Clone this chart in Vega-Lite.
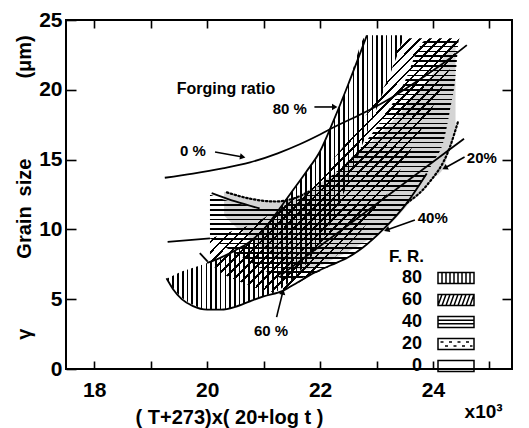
{
  "$schema": "https://vega.github.io/schema/vega-lite/v6.json",
  "width": 446,
  "height": 349,
  "autosize": {"type": "none"},
  "padding": {"left": 66, "top": 20, "right": 17, "bottom": 59},
  "background": "white",
  "config": {
    "view": {"stroke": "#000", "strokeWidth": 2},
    "axis": {
      "grid": false, "domain": false, "tickColor": "#000", "tickWidth": 1.6,
      "labelColor": "#000", "titleColor": "#000",
      "labelFont": "Liberation Sans", "titleFont": "Liberation Sans",
      "labelFontWeight": "bold", "titleFontWeight": "bold"
    }
  },
  "datasets": {
    "bands": [
      {"fr": "80", "x": 19.3, "lo": 6.35, "hi": 6.5},
      {"fr": "80", "x": 19.5, "lo": 5.3, "hi": 6.9},
      {"fr": "80", "x": 19.75, "lo": 4.6, "hi": 7.25},
      {"fr": "80", "x": 20.0, "lo": 4.25, "hi": 7.6},
      {"fr": "80", "x": 20.25, "lo": 4.25, "hi": 8.0},
      {"fr": "80", "x": 20.5, "lo": 4.45, "hi": 8.5},
      {"fr": "80", "x": 20.75, "lo": 4.85, "hi": 9.1},
      {"fr": "80", "x": 21.0, "lo": 5.2, "hi": 10.0},
      {"fr": "80", "x": 21.25, "lo": 5.6, "hi": 11.3},
      {"fr": "80", "x": 21.5, "lo": 6.4, "hi": 12.7},
      {"fr": "80", "x": 21.75, "lo": 7.5, "hi": 14.1},
      {"fr": "80", "x": 22.0, "lo": 9.0, "hi": 15.6},
      {"fr": "80", "x": 22.25, "lo": 11.0, "hi": 17.9},
      {"fr": "80", "x": 22.5, "lo": 13.4, "hi": 20.4},
      {"fr": "80", "x": 22.83, "lo": 16.9, "hi": 23.9},
      {"fr": "80", "x": 23.0, "lo": 18.6, "hi": 23.9},
      {"fr": "80", "x": 23.25, "lo": 21.2, "hi": 23.9},
      {"fr": "80", "x": 23.5, "lo": 23.9, "hi": 23.9},
      {"fr": "60", "x": 20.05, "lo": 7.6, "hi": 9.35},
      {"fr": "60", "x": 20.25, "lo": 6.9, "hi": 9.6},
      {"fr": "60", "x": 20.5, "lo": 6.4, "hi": 9.95},
      {"fr": "60", "x": 20.75, "lo": 6.0, "hi": 10.3},
      {"fr": "60", "x": 21.0, "lo": 5.6, "hi": 10.8},
      {"fr": "60", "x": 21.25, "lo": 5.5, "hi": 11.4},
      {"fr": "60", "x": 21.5, "lo": 5.9, "hi": 12.1},
      {"fr": "60", "x": 21.75, "lo": 6.5, "hi": 13.0},
      {"fr": "60", "x": 22.0, "lo": 7.2, "hi": 14.0},
      {"fr": "60", "x": 22.25, "lo": 8.0, "hi": 15.1},
      {"fr": "60", "x": 22.5, "lo": 8.9, "hi": 16.4},
      {"fr": "60", "x": 22.75, "lo": 10.0, "hi": 17.8},
      {"fr": "60", "x": 23.0, "lo": 11.4, "hi": 19.3},
      {"fr": "60", "x": 23.25, "lo": 13.0, "hi": 21.2},
      {"fr": "60", "x": 23.46, "lo": 14.6, "hi": 23.7},
      {"fr": "60", "x": 23.75, "lo": 16.8, "hi": 23.7},
      {"fr": "60", "x": 24.0, "lo": 18.8, "hi": 23.7},
      {"fr": "60", "x": 24.25, "lo": 21.0, "hi": 23.7},
      {"fr": "60", "x": 24.47, "lo": 23.7, "hi": 23.7},
      {"fr": "40", "x": 20.05, "lo": 9.35, "hi": 12.5},
      {"fr": "40", "x": 20.25, "lo": 8.9, "hi": 12.2},
      {"fr": "40", "x": 20.5, "lo": 8.3, "hi": 11.9},
      {"fr": "40", "x": 20.75, "lo": 7.7, "hi": 11.7},
      {"fr": "40", "x": 21.0, "lo": 7.1, "hi": 11.5},
      {"fr": "40", "x": 21.25, "lo": 6.6, "hi": 11.6},
      {"fr": "40", "x": 21.5, "lo": 6.3, "hi": 11.9},
      {"fr": "40", "x": 21.75, "lo": 6.6, "hi": 12.5},
      {"fr": "40", "x": 22.0, "lo": 7.0, "hi": 13.2},
      {"fr": "40", "x": 22.25, "lo": 7.5, "hi": 14.0},
      {"fr": "40", "x": 22.5, "lo": 8.0, "hi": 14.9},
      {"fr": "40", "x": 22.75, "lo": 8.7, "hi": 16.0},
      {"fr": "40", "x": 23.0, "lo": 9.5, "hi": 17.3},
      {"fr": "40", "x": 23.25, "lo": 10.5, "hi": 18.8},
      {"fr": "40", "x": 23.5, "lo": 11.7, "hi": 20.6},
      {"fr": "40", "x": 23.75, "lo": 13.1, "hi": 23.0},
      {"fr": "40", "x": 23.85, "lo": 13.7, "hi": 23.5},
      {"fr": "40", "x": 24.0, "lo": 14.8, "hi": 23.5},
      {"fr": "40", "x": 24.2, "lo": 16.5, "hi": 23.5},
      {"fr": "40", "x": 24.3, "lo": 18.5, "hi": 23.5},
      {"fr": "40", "x": 24.4, "lo": 21.0, "hi": 23.5},
      {"fr": "40", "x": 24.45, "lo": 23.5, "hi": 23.5},
      {"fr": "20", "x": 20.3, "lo": 11.0, "hi": 12.7},
      {"fr": "20", "x": 20.5, "lo": 10.2, "hi": 12.5},
      {"fr": "20", "x": 20.75, "lo": 9.4, "hi": 12.2},
      {"fr": "20", "x": 21.0, "lo": 8.6, "hi": 12.0},
      {"fr": "20", "x": 21.25, "lo": 7.8, "hi": 12.0},
      {"fr": "20", "x": 21.5, "lo": 7.2, "hi": 12.2},
      {"fr": "20", "x": 21.75, "lo": 7.1, "hi": 12.7},
      {"fr": "20", "x": 22.0, "lo": 7.4, "hi": 13.3},
      {"fr": "20", "x": 22.25, "lo": 7.9, "hi": 14.0},
      {"fr": "20", "x": 22.5, "lo": 8.4, "hi": 14.8},
      {"fr": "20", "x": 22.75, "lo": 9.0, "hi": 15.7},
      {"fr": "20", "x": 23.0, "lo": 9.6, "hi": 16.6},
      {"fr": "20", "x": 23.25, "lo": 10.4, "hi": 17.6},
      {"fr": "20", "x": 23.5, "lo": 11.5, "hi": 18.7},
      {"fr": "20", "x": 23.75, "lo": 12.6, "hi": 19.9},
      {"fr": "20", "x": 24.0, "lo": 13.6, "hi": 21.2},
      {"fr": "20", "x": 24.2, "lo": 14.5, "hi": 22.4},
      {"fr": "20", "x": 24.3, "lo": 15.9, "hi": 23.1},
      {"fr": "20", "x": 24.4, "lo": 17.0, "hi": 23.5}
    ],
    "lines": [
      {"k": "L0", "x": 19.25, "y": 13.7}, {"k": "L0", "x": 19.75, "y": 14.0}, {"k": "L0", "x": 20.25, "y": 14.35},
      {"k": "L0", "x": 20.76, "y": 14.8}, {"k": "L0", "x": 21.25, "y": 15.45}, {"k": "L0", "x": 21.64, "y": 16.1},
      {"k": "L0", "x": 22.0, "y": 16.8}, {"k": "L0", "x": 22.26, "y": 17.35}, {"k": "L0", "x": 22.75, "y": 18.3},
      {"k": "L0", "x": 23.25, "y": 19.4}, {"k": "L0", "x": 23.75, "y": 20.7}, {"k": "L0", "x": 24.25, "y": 22.1},
      {"k": "L0", "x": 24.6, "y": 23.2},
      {"k": "U80", "x": 20.0, "y": 7.6}, {"k": "U80", "x": 20.25, "y": 8.0}, {"k": "U80", "x": 20.5, "y": 8.5},
      {"k": "U80", "x": 20.75, "y": 9.1}, {"k": "U80", "x": 21.0, "y": 10.0}, {"k": "U80", "x": 21.25, "y": 11.3},
      {"k": "U80", "x": 21.5, "y": 12.7}, {"k": "U80", "x": 21.75, "y": 14.1}, {"k": "U80", "x": 22.0, "y": 15.6},
      {"k": "U80", "x": 22.25, "y": 17.9}, {"k": "U80", "x": 22.5, "y": 20.4}, {"k": "U80", "x": 22.83, "y": 23.9},
      {"k": "UL", "x": 19.28, "y": 6.5}, {"k": "UL", "x": 19.4, "y": 5.7}, {"k": "UL", "x": 19.55, "y": 5.0},
      {"k": "UL", "x": 19.75, "y": 4.5}, {"k": "UL", "x": 20.0, "y": 4.25}, {"k": "UL", "x": 20.25, "y": 4.25},
      {"k": "UL", "x": 20.5, "y": 4.45}, {"k": "UL", "x": 20.76, "y": 4.85}, {"k": "UL", "x": 21.0, "y": 5.2},
      {"k": "UL", "x": 21.34, "y": 5.6}, {"k": "UL", "x": 21.6, "y": 6.2}, {"k": "UL", "x": 21.9, "y": 6.9},
      {"k": "UL", "x": 22.2, "y": 7.45}, {"k": "UL", "x": 22.5, "y": 8.0}, {"k": "UL", "x": 22.76, "y": 8.7},
      {"k": "UL", "x": 23.11, "y": 9.96}, {"k": "UL", "x": 23.54, "y": 11.9}, {"k": "UL", "x": 23.89, "y": 14.0},
      {"k": "L9", "x": 19.3, "y": 9.1}, {"k": "L9", "x": 20.05, "y": 9.35},
      {"k": "Ld", "x": 19.87, "y": 8.3}, {"k": "Ld", "x": 20.01, "y": 7.7},
      {"k": "L20", "x": 21.3, "y": 6.7}, {"k": "L20", "x": 24.55, "y": 16.5},
      {"k": "Lh", "x": 20.08, "y": 12.6}, {"k": "Lh", "x": 20.5, "y": 12.0}, {"k": "Lh", "x": 20.93, "y": 11.5}
    ],
    "dots": [
      {"k": "D1", "x": 20.35, "y": 12.65}, {"k": "D1", "x": 20.76, "y": 12.2}, {"k": "D1", "x": 21.2, "y": 12.0},
      {"k": "D1", "x": 21.52, "y": 12.2}, {"k": "D1", "x": 21.8, "y": 12.7},
      {"k": "D2", "x": 23.54, "y": 11.9}, {"k": "D2", "x": 23.9, "y": 13.2}, {"k": "D2", "x": 24.3, "y": 15.9},
      {"k": "D2", "x": 24.45, "y": 17.8}
    ],
    "arrows": [
      {"id": "a80", "x": 21.9, "y": 18.77, "x2": 22.26, "y2": 18.77},
      {"id": "a0", "x": 20.14, "y": 15.54, "x2": 20.63, "y2": 15.19},
      {"id": "a20", "x": 24.56, "y": 15.19, "x2": 24.21, "y2": 14.4},
      {"id": "a40", "x": 23.68, "y": 10.67, "x2": 23.18, "y2": 9.96},
      {"id": "a60", "x": 21.23, "y": 3.72, "x2": 21.34, "y2": 5.52}
    ],
    "notes": [
      {"t": "Forging ratio", "g": "a", "x": 19.46, "y": 20.06},
      {"t": "80 %", "g": "b", "x": 21.16, "y": 18.65},
      {"t": "0 %", "g": "b", "x": 19.52, "y": 15.6},
      {"t": "20%", "g": "b", "x": 24.6, "y": 15.1},
      {"t": "40%", "g": "b", "x": 23.73, "y": 10.8},
      {"t": "60 %", "g": "b", "x": 20.83, "y": 2.75},
      {"t": "x10³", "g": "c", "x": 24.56, "y": -3.1}
    ],
    "fr": [{"fr": "80"}, {"fr": "60"}, {"fr": "40"}, {"fr": "20"}, {"fr": "0"}]
  },
  "layer": [
    {
      "data": {"name": "bands"},
      "transform": [{"filter": "datum.fr == '80'"}],
      "mark": {"type": "area", "interpolate": "monotone", "strokeWidth": 0,
        "fill": {"gradient": "linear", "x1": 0, "y1": 0, "x2": 1, "y2": 0, "stops": [
{"offset":0,"color":"#000"},{"offset":0.007,"color":"#000"},{"offset":0.007,"color":"transparent"},{"offset":0.02,"color":"transparent"},
{"offset":0.02,"color":"#000"},{"offset":0.027,"color":"#000"},{"offset":0.027,"color":"transparent"},{"offset":0.04,"color":"transparent"},
{"offset":0.04,"color":"#000"},{"offset":0.047,"color":"#000"},{"offset":0.047,"color":"transparent"},{"offset":0.06,"color":"transparent"},
{"offset":0.06,"color":"#000"},{"offset":0.067,"color":"#000"},{"offset":0.067,"color":"transparent"},{"offset":0.08,"color":"transparent"},
{"offset":0.08,"color":"#000"},{"offset":0.087,"color":"#000"},{"offset":0.087,"color":"transparent"},{"offset":0.1,"color":"transparent"},
{"offset":0.1,"color":"#000"},{"offset":0.107,"color":"#000"},{"offset":0.107,"color":"transparent"},{"offset":0.12,"color":"transparent"},
{"offset":0.12,"color":"#000"},{"offset":0.127,"color":"#000"},{"offset":0.127,"color":"transparent"},{"offset":0.14,"color":"transparent"},
{"offset":0.14,"color":"#000"},{"offset":0.147,"color":"#000"},{"offset":0.147,"color":"transparent"},{"offset":0.16,"color":"transparent"},
{"offset":0.16,"color":"#000"},{"offset":0.167,"color":"#000"},{"offset":0.167,"color":"transparent"},{"offset":0.18,"color":"transparent"},
{"offset":0.18,"color":"#000"},{"offset":0.187,"color":"#000"},{"offset":0.187,"color":"transparent"},{"offset":0.2,"color":"transparent"},
{"offset":0.2,"color":"#000"},{"offset":0.207,"color":"#000"},{"offset":0.207,"color":"transparent"},{"offset":0.22,"color":"transparent"},
{"offset":0.22,"color":"#000"},{"offset":0.227,"color":"#000"},{"offset":0.227,"color":"transparent"},{"offset":0.24,"color":"transparent"},
{"offset":0.24,"color":"#000"},{"offset":0.247,"color":"#000"},{"offset":0.247,"color":"transparent"},{"offset":0.26,"color":"transparent"},
{"offset":0.26,"color":"#000"},{"offset":0.267,"color":"#000"},{"offset":0.267,"color":"transparent"},{"offset":0.28,"color":"transparent"},
{"offset":0.28,"color":"#000"},{"offset":0.287,"color":"#000"},{"offset":0.287,"color":"transparent"},{"offset":0.3,"color":"transparent"},
{"offset":0.3,"color":"#000"},{"offset":0.307,"color":"#000"},{"offset":0.307,"color":"transparent"},{"offset":0.32,"color":"transparent"},
{"offset":0.32,"color":"#000"},{"offset":0.327,"color":"#000"},{"offset":0.327,"color":"transparent"},{"offset":0.34,"color":"transparent"},
{"offset":0.34,"color":"#000"},{"offset":0.347,"color":"#000"},{"offset":0.347,"color":"transparent"},{"offset":0.36,"color":"transparent"},
{"offset":0.36,"color":"#000"},{"offset":0.367,"color":"#000"},{"offset":0.367,"color":"transparent"},{"offset":0.38,"color":"transparent"},
{"offset":0.38,"color":"#000"},{"offset":0.387,"color":"#000"},{"offset":0.387,"color":"transparent"},{"offset":0.4,"color":"transparent"},
{"offset":0.4,"color":"#000"},{"offset":0.407,"color":"#000"},{"offset":0.407,"color":"transparent"},{"offset":0.42,"color":"transparent"},
{"offset":0.42,"color":"#000"},{"offset":0.427,"color":"#000"},{"offset":0.427,"color":"transparent"},{"offset":0.44,"color":"transparent"},
{"offset":0.44,"color":"#000"},{"offset":0.447,"color":"#000"},{"offset":0.447,"color":"transparent"},{"offset":0.46,"color":"transparent"},
{"offset":0.46,"color":"#000"},{"offset":0.467,"color":"#000"},{"offset":0.467,"color":"transparent"},{"offset":0.48,"color":"transparent"},
{"offset":0.48,"color":"#000"},{"offset":0.487,"color":"#000"},{"offset":0.487,"color":"transparent"},{"offset":0.5,"color":"transparent"},
{"offset":0.5,"color":"#000"},{"offset":0.507,"color":"#000"},{"offset":0.507,"color":"transparent"},{"offset":0.52,"color":"transparent"},
{"offset":0.52,"color":"#000"},{"offset":0.527,"color":"#000"},{"offset":0.527,"color":"transparent"},{"offset":0.54,"color":"transparent"},
{"offset":0.54,"color":"#000"},{"offset":0.547,"color":"#000"},{"offset":0.547,"color":"transparent"},{"offset":0.56,"color":"transparent"},
{"offset":0.56,"color":"#000"},{"offset":0.567,"color":"#000"},{"offset":0.567,"color":"transparent"},{"offset":0.58,"color":"transparent"},
{"offset":0.58,"color":"#000"},{"offset":0.587,"color":"#000"},{"offset":0.587,"color":"transparent"},{"offset":0.6,"color":"transparent"},
{"offset":0.6,"color":"#000"},{"offset":0.607,"color":"#000"},{"offset":0.607,"color":"transparent"},{"offset":0.62,"color":"transparent"},
{"offset":0.62,"color":"#000"},{"offset":0.627,"color":"#000"},{"offset":0.627,"color":"transparent"},{"offset":0.64,"color":"transparent"},
{"offset":0.64,"color":"#000"},{"offset":0.647,"color":"#000"},{"offset":0.647,"color":"transparent"},{"offset":0.66,"color":"transparent"},
{"offset":0.66,"color":"#000"},{"offset":0.667,"color":"#000"},{"offset":0.667,"color":"transparent"},{"offset":0.68,"color":"transparent"},
{"offset":0.68,"color":"#000"},{"offset":0.687,"color":"#000"},{"offset":0.687,"color":"transparent"},{"offset":0.7,"color":"transparent"},
{"offset":0.7,"color":"#000"},{"offset":0.707,"color":"#000"},{"offset":0.707,"color":"transparent"},{"offset":0.72,"color":"transparent"},
{"offset":0.72,"color":"#000"},{"offset":0.727,"color":"#000"},{"offset":0.727,"color":"transparent"},{"offset":0.74,"color":"transparent"},
{"offset":0.74,"color":"#000"},{"offset":0.747,"color":"#000"},{"offset":0.747,"color":"transparent"},{"offset":0.76,"color":"transparent"},
{"offset":0.76,"color":"#000"},{"offset":0.767,"color":"#000"},{"offset":0.767,"color":"transparent"},{"offset":0.78,"color":"transparent"},
{"offset":0.78,"color":"#000"},{"offset":0.787,"color":"#000"},{"offset":0.787,"color":"transparent"},{"offset":0.8,"color":"transparent"},
{"offset":0.8,"color":"#000"},{"offset":0.807,"color":"#000"},{"offset":0.807,"color":"transparent"},{"offset":0.82,"color":"transparent"},
{"offset":0.82,"color":"#000"},{"offset":0.827,"color":"#000"},{"offset":0.827,"color":"transparent"},{"offset":0.84,"color":"transparent"},
{"offset":0.84,"color":"#000"},{"offset":0.847,"color":"#000"},{"offset":0.847,"color":"transparent"},{"offset":0.86,"color":"transparent"},
{"offset":0.86,"color":"#000"},{"offset":0.867,"color":"#000"},{"offset":0.867,"color":"transparent"},{"offset":0.88,"color":"transparent"},
{"offset":0.88,"color":"#000"},{"offset":0.887,"color":"#000"},{"offset":0.887,"color":"transparent"},{"offset":0.9,"color":"transparent"},
{"offset":0.9,"color":"#000"},{"offset":0.907,"color":"#000"},{"offset":0.907,"color":"transparent"},{"offset":0.92,"color":"transparent"},
{"offset":0.92,"color":"#000"},{"offset":0.927,"color":"#000"},{"offset":0.927,"color":"transparent"},{"offset":0.94,"color":"transparent"},
{"offset":0.94,"color":"#000"},{"offset":0.947,"color":"#000"},{"offset":0.947,"color":"transparent"},{"offset":0.96,"color":"transparent"},
{"offset":0.96,"color":"#000"},{"offset":0.967,"color":"#000"},{"offset":0.967,"color":"transparent"},{"offset":0.98,"color":"transparent"},
{"offset":0.98,"color":"#000"},{"offset":0.987,"color":"#000"},{"offset":0.987,"color":"transparent"},{"offset":1,"color":"transparent"}
        ]}},
      "encoding": {
        "x": {"field": "x", "type": "quantitative",
              "scale": {"domain": [17.5, 25.4], "nice": false, "zero": false},
              "axis": {"orient": "bottom", "values": [18, 19, 20, 21, 22, 23, 24, 25],
                       "labelExpr": "datum.value % 2 == 0 ? datum.label : ''",
                       "tickSize": -8, "labelPadding": 18, "labelFontSize": 21,
                       "title": "( T+273)x( 20+log t )", "titleFontSize": 20,
                       "titleX": 163, "titleY": 54, "titleAlign": "center", "titleBaseline": "alphabetic"}},
        "y": {"field": "lo", "type": "quantitative", "stack": null,
              "scale": {"domain": [0, 25], "nice": false},
              "axis": {"orient": "left", "values": [0, 5, 10, 15, 20, 25],
                       "tickSize": -10, "labelPadding": 14, "labelFontSize": 21,
                       "title": "γ\u2003\u2003\u2003\u2002Grain\u2002size\u2003\u2003\u2003\u2003(μm)", "titleFontSize": 20,
                       "titleX": -42, "titleY": 167, "titleAngle": -90, "titleAlign": "center", "titleBaseline": "middle"}},
        "y2": {"field": "hi"}
      }
    },
    {
      "data": {"name": "bands"},
      "transform": [{"filter": "datum.fr == '60'"}],
      "mark": {"type": "area", "interpolate": "monotone", "strokeWidth": 0,
        "fill": {"gradient": "linear", "x1": 0, "y1": 0, "x2": 1, "y2": 1, "stops": [
{"offset":0,"color":"#000"},{"offset":0.005,"color":"#000"},{"offset":0.005,"color":"transparent"},{"offset":0.02,"color":"transparent"},
{"offset":0.02,"color":"#000"},{"offset":0.025,"color":"#000"},{"offset":0.025,"color":"transparent"},{"offset":0.04,"color":"transparent"},
{"offset":0.04,"color":"#000"},{"offset":0.045,"color":"#000"},{"offset":0.045,"color":"transparent"},{"offset":0.06,"color":"transparent"},
{"offset":0.06,"color":"#000"},{"offset":0.065,"color":"#000"},{"offset":0.065,"color":"transparent"},{"offset":0.08,"color":"transparent"},
{"offset":0.08,"color":"#000"},{"offset":0.085,"color":"#000"},{"offset":0.085,"color":"transparent"},{"offset":0.1,"color":"transparent"},
{"offset":0.1,"color":"#000"},{"offset":0.105,"color":"#000"},{"offset":0.105,"color":"transparent"},{"offset":0.12,"color":"transparent"},
{"offset":0.12,"color":"#000"},{"offset":0.125,"color":"#000"},{"offset":0.125,"color":"transparent"},{"offset":0.14,"color":"transparent"},
{"offset":0.14,"color":"#000"},{"offset":0.145,"color":"#000"},{"offset":0.145,"color":"transparent"},{"offset":0.16,"color":"transparent"},
{"offset":0.16,"color":"#000"},{"offset":0.165,"color":"#000"},{"offset":0.165,"color":"transparent"},{"offset":0.18,"color":"transparent"},
{"offset":0.18,"color":"#000"},{"offset":0.185,"color":"#000"},{"offset":0.185,"color":"transparent"},{"offset":0.2,"color":"transparent"},
{"offset":0.2,"color":"#000"},{"offset":0.205,"color":"#000"},{"offset":0.205,"color":"transparent"},{"offset":0.22,"color":"transparent"},
{"offset":0.22,"color":"#000"},{"offset":0.225,"color":"#000"},{"offset":0.225,"color":"transparent"},{"offset":0.24,"color":"transparent"},
{"offset":0.24,"color":"#000"},{"offset":0.245,"color":"#000"},{"offset":0.245,"color":"transparent"},{"offset":0.26,"color":"transparent"},
{"offset":0.26,"color":"#000"},{"offset":0.265,"color":"#000"},{"offset":0.265,"color":"transparent"},{"offset":0.28,"color":"transparent"},
{"offset":0.28,"color":"#000"},{"offset":0.285,"color":"#000"},{"offset":0.285,"color":"transparent"},{"offset":0.3,"color":"transparent"},
{"offset":0.3,"color":"#000"},{"offset":0.305,"color":"#000"},{"offset":0.305,"color":"transparent"},{"offset":0.32,"color":"transparent"},
{"offset":0.32,"color":"#000"},{"offset":0.325,"color":"#000"},{"offset":0.325,"color":"transparent"},{"offset":0.34,"color":"transparent"},
{"offset":0.34,"color":"#000"},{"offset":0.345,"color":"#000"},{"offset":0.345,"color":"transparent"},{"offset":0.36,"color":"transparent"},
{"offset":0.36,"color":"#000"},{"offset":0.365,"color":"#000"},{"offset":0.365,"color":"transparent"},{"offset":0.38,"color":"transparent"},
{"offset":0.38,"color":"#000"},{"offset":0.385,"color":"#000"},{"offset":0.385,"color":"transparent"},{"offset":0.4,"color":"transparent"},
{"offset":0.4,"color":"#000"},{"offset":0.405,"color":"#000"},{"offset":0.405,"color":"transparent"},{"offset":0.42,"color":"transparent"},
{"offset":0.42,"color":"#000"},{"offset":0.425,"color":"#000"},{"offset":0.425,"color":"transparent"},{"offset":0.44,"color":"transparent"},
{"offset":0.44,"color":"#000"},{"offset":0.445,"color":"#000"},{"offset":0.445,"color":"transparent"},{"offset":0.46,"color":"transparent"},
{"offset":0.46,"color":"#000"},{"offset":0.465,"color":"#000"},{"offset":0.465,"color":"transparent"},{"offset":0.48,"color":"transparent"},
{"offset":0.48,"color":"#000"},{"offset":0.485,"color":"#000"},{"offset":0.485,"color":"transparent"},{"offset":0.5,"color":"transparent"},
{"offset":0.5,"color":"#000"},{"offset":0.505,"color":"#000"},{"offset":0.505,"color":"transparent"},{"offset":0.52,"color":"transparent"},
{"offset":0.52,"color":"#000"},{"offset":0.525,"color":"#000"},{"offset":0.525,"color":"transparent"},{"offset":0.54,"color":"transparent"},
{"offset":0.54,"color":"#000"},{"offset":0.545,"color":"#000"},{"offset":0.545,"color":"transparent"},{"offset":0.56,"color":"transparent"},
{"offset":0.56,"color":"#000"},{"offset":0.565,"color":"#000"},{"offset":0.565,"color":"transparent"},{"offset":0.58,"color":"transparent"},
{"offset":0.58,"color":"#000"},{"offset":0.585,"color":"#000"},{"offset":0.585,"color":"transparent"},{"offset":0.6,"color":"transparent"},
{"offset":0.6,"color":"#000"},{"offset":0.605,"color":"#000"},{"offset":0.605,"color":"transparent"},{"offset":0.62,"color":"transparent"},
{"offset":0.62,"color":"#000"},{"offset":0.625,"color":"#000"},{"offset":0.625,"color":"transparent"},{"offset":0.64,"color":"transparent"},
{"offset":0.64,"color":"#000"},{"offset":0.645,"color":"#000"},{"offset":0.645,"color":"transparent"},{"offset":0.66,"color":"transparent"},
{"offset":0.66,"color":"#000"},{"offset":0.665,"color":"#000"},{"offset":0.665,"color":"transparent"},{"offset":0.68,"color":"transparent"},
{"offset":0.68,"color":"#000"},{"offset":0.685,"color":"#000"},{"offset":0.685,"color":"transparent"},{"offset":0.7,"color":"transparent"},
{"offset":0.7,"color":"#000"},{"offset":0.705,"color":"#000"},{"offset":0.705,"color":"transparent"},{"offset":0.72,"color":"transparent"},
{"offset":0.72,"color":"#000"},{"offset":0.725,"color":"#000"},{"offset":0.725,"color":"transparent"},{"offset":0.74,"color":"transparent"},
{"offset":0.74,"color":"#000"},{"offset":0.745,"color":"#000"},{"offset":0.745,"color":"transparent"},{"offset":0.76,"color":"transparent"},
{"offset":0.76,"color":"#000"},{"offset":0.765,"color":"#000"},{"offset":0.765,"color":"transparent"},{"offset":0.78,"color":"transparent"},
{"offset":0.78,"color":"#000"},{"offset":0.785,"color":"#000"},{"offset":0.785,"color":"transparent"},{"offset":0.8,"color":"transparent"},
{"offset":0.8,"color":"#000"},{"offset":0.805,"color":"#000"},{"offset":0.805,"color":"transparent"},{"offset":0.82,"color":"transparent"},
{"offset":0.82,"color":"#000"},{"offset":0.825,"color":"#000"},{"offset":0.825,"color":"transparent"},{"offset":0.84,"color":"transparent"},
{"offset":0.84,"color":"#000"},{"offset":0.845,"color":"#000"},{"offset":0.845,"color":"transparent"},{"offset":0.86,"color":"transparent"},
{"offset":0.86,"color":"#000"},{"offset":0.865,"color":"#000"},{"offset":0.865,"color":"transparent"},{"offset":0.88,"color":"transparent"},
{"offset":0.88,"color":"#000"},{"offset":0.885,"color":"#000"},{"offset":0.885,"color":"transparent"},{"offset":0.9,"color":"transparent"},
{"offset":0.9,"color":"#000"},{"offset":0.905,"color":"#000"},{"offset":0.905,"color":"transparent"},{"offset":0.92,"color":"transparent"},
{"offset":0.92,"color":"#000"},{"offset":0.925,"color":"#000"},{"offset":0.925,"color":"transparent"},{"offset":0.94,"color":"transparent"},
{"offset":0.94,"color":"#000"},{"offset":0.945,"color":"#000"},{"offset":0.945,"color":"transparent"},{"offset":0.96,"color":"transparent"},
{"offset":0.96,"color":"#000"},{"offset":0.965,"color":"#000"},{"offset":0.965,"color":"transparent"},{"offset":0.98,"color":"transparent"},
{"offset":0.98,"color":"#000"},{"offset":0.985,"color":"#000"},{"offset":0.985,"color":"transparent"},{"offset":1,"color":"transparent"}
        ]}},
      "encoding": {
        "x": {"field": "x", "type": "quantitative", "axis": null},
        "y": {"field": "lo", "type": "quantitative", "stack": null, "axis": null},
        "y2": {"field": "hi"}
      }
    },
    {
      "data": {"name": "bands"},
      "transform": [{"filter": "datum.fr == '40'"}],
      "mark": {"type": "area", "interpolate": "monotone", "strokeWidth": 0,
        "fill": {"gradient": "linear", "x1": 0, "y1": 0, "x2": 0, "y2": 1, "stops": [
{"offset":0,"color":"#000"},{"offset":0.007,"color":"#000"},{"offset":0.007,"color":"transparent"},{"offset":0.02,"color":"transparent"},
{"offset":0.02,"color":"#000"},{"offset":0.027,"color":"#000"},{"offset":0.027,"color":"transparent"},{"offset":0.04,"color":"transparent"},
{"offset":0.04,"color":"#000"},{"offset":0.047,"color":"#000"},{"offset":0.047,"color":"transparent"},{"offset":0.06,"color":"transparent"},
{"offset":0.06,"color":"#000"},{"offset":0.067,"color":"#000"},{"offset":0.067,"color":"transparent"},{"offset":0.08,"color":"transparent"},
{"offset":0.08,"color":"#000"},{"offset":0.087,"color":"#000"},{"offset":0.087,"color":"transparent"},{"offset":0.1,"color":"transparent"},
{"offset":0.1,"color":"#000"},{"offset":0.107,"color":"#000"},{"offset":0.107,"color":"transparent"},{"offset":0.12,"color":"transparent"},
{"offset":0.12,"color":"#000"},{"offset":0.127,"color":"#000"},{"offset":0.127,"color":"transparent"},{"offset":0.14,"color":"transparent"},
{"offset":0.14,"color":"#000"},{"offset":0.147,"color":"#000"},{"offset":0.147,"color":"transparent"},{"offset":0.16,"color":"transparent"},
{"offset":0.16,"color":"#000"},{"offset":0.167,"color":"#000"},{"offset":0.167,"color":"transparent"},{"offset":0.18,"color":"transparent"},
{"offset":0.18,"color":"#000"},{"offset":0.187,"color":"#000"},{"offset":0.187,"color":"transparent"},{"offset":0.2,"color":"transparent"},
{"offset":0.2,"color":"#000"},{"offset":0.207,"color":"#000"},{"offset":0.207,"color":"transparent"},{"offset":0.22,"color":"transparent"},
{"offset":0.22,"color":"#000"},{"offset":0.227,"color":"#000"},{"offset":0.227,"color":"transparent"},{"offset":0.24,"color":"transparent"},
{"offset":0.24,"color":"#000"},{"offset":0.247,"color":"#000"},{"offset":0.247,"color":"transparent"},{"offset":0.26,"color":"transparent"},
{"offset":0.26,"color":"#000"},{"offset":0.267,"color":"#000"},{"offset":0.267,"color":"transparent"},{"offset":0.28,"color":"transparent"},
{"offset":0.28,"color":"#000"},{"offset":0.287,"color":"#000"},{"offset":0.287,"color":"transparent"},{"offset":0.3,"color":"transparent"},
{"offset":0.3,"color":"#000"},{"offset":0.307,"color":"#000"},{"offset":0.307,"color":"transparent"},{"offset":0.32,"color":"transparent"},
{"offset":0.32,"color":"#000"},{"offset":0.327,"color":"#000"},{"offset":0.327,"color":"transparent"},{"offset":0.34,"color":"transparent"},
{"offset":0.34,"color":"#000"},{"offset":0.347,"color":"#000"},{"offset":0.347,"color":"transparent"},{"offset":0.36,"color":"transparent"},
{"offset":0.36,"color":"#000"},{"offset":0.367,"color":"#000"},{"offset":0.367,"color":"transparent"},{"offset":0.38,"color":"transparent"},
{"offset":0.38,"color":"#000"},{"offset":0.387,"color":"#000"},{"offset":0.387,"color":"transparent"},{"offset":0.4,"color":"transparent"},
{"offset":0.4,"color":"#000"},{"offset":0.407,"color":"#000"},{"offset":0.407,"color":"transparent"},{"offset":0.42,"color":"transparent"},
{"offset":0.42,"color":"#000"},{"offset":0.427,"color":"#000"},{"offset":0.427,"color":"transparent"},{"offset":0.44,"color":"transparent"},
{"offset":0.44,"color":"#000"},{"offset":0.447,"color":"#000"},{"offset":0.447,"color":"transparent"},{"offset":0.46,"color":"transparent"},
{"offset":0.46,"color":"#000"},{"offset":0.467,"color":"#000"},{"offset":0.467,"color":"transparent"},{"offset":0.48,"color":"transparent"},
{"offset":0.48,"color":"#000"},{"offset":0.487,"color":"#000"},{"offset":0.487,"color":"transparent"},{"offset":0.5,"color":"transparent"},
{"offset":0.5,"color":"#000"},{"offset":0.507,"color":"#000"},{"offset":0.507,"color":"transparent"},{"offset":0.52,"color":"transparent"},
{"offset":0.52,"color":"#000"},{"offset":0.527,"color":"#000"},{"offset":0.527,"color":"transparent"},{"offset":0.54,"color":"transparent"},
{"offset":0.54,"color":"#000"},{"offset":0.547,"color":"#000"},{"offset":0.547,"color":"transparent"},{"offset":0.56,"color":"transparent"},
{"offset":0.56,"color":"#000"},{"offset":0.567,"color":"#000"},{"offset":0.567,"color":"transparent"},{"offset":0.58,"color":"transparent"},
{"offset":0.58,"color":"#000"},{"offset":0.587,"color":"#000"},{"offset":0.587,"color":"transparent"},{"offset":0.6,"color":"transparent"},
{"offset":0.6,"color":"#000"},{"offset":0.607,"color":"#000"},{"offset":0.607,"color":"transparent"},{"offset":0.62,"color":"transparent"},
{"offset":0.62,"color":"#000"},{"offset":0.627,"color":"#000"},{"offset":0.627,"color":"transparent"},{"offset":0.64,"color":"transparent"},
{"offset":0.64,"color":"#000"},{"offset":0.647,"color":"#000"},{"offset":0.647,"color":"transparent"},{"offset":0.66,"color":"transparent"},
{"offset":0.66,"color":"#000"},{"offset":0.667,"color":"#000"},{"offset":0.667,"color":"transparent"},{"offset":0.68,"color":"transparent"},
{"offset":0.68,"color":"#000"},{"offset":0.687,"color":"#000"},{"offset":0.687,"color":"transparent"},{"offset":0.7,"color":"transparent"},
{"offset":0.7,"color":"#000"},{"offset":0.707,"color":"#000"},{"offset":0.707,"color":"transparent"},{"offset":0.72,"color":"transparent"},
{"offset":0.72,"color":"#000"},{"offset":0.727,"color":"#000"},{"offset":0.727,"color":"transparent"},{"offset":0.74,"color":"transparent"},
{"offset":0.74,"color":"#000"},{"offset":0.747,"color":"#000"},{"offset":0.747,"color":"transparent"},{"offset":0.76,"color":"transparent"},
{"offset":0.76,"color":"#000"},{"offset":0.767,"color":"#000"},{"offset":0.767,"color":"transparent"},{"offset":0.78,"color":"transparent"},
{"offset":0.78,"color":"#000"},{"offset":0.787,"color":"#000"},{"offset":0.787,"color":"transparent"},{"offset":0.8,"color":"transparent"},
{"offset":0.8,"color":"#000"},{"offset":0.807,"color":"#000"},{"offset":0.807,"color":"transparent"},{"offset":0.82,"color":"transparent"},
{"offset":0.82,"color":"#000"},{"offset":0.827,"color":"#000"},{"offset":0.827,"color":"transparent"},{"offset":0.84,"color":"transparent"},
{"offset":0.84,"color":"#000"},{"offset":0.847,"color":"#000"},{"offset":0.847,"color":"transparent"},{"offset":0.86,"color":"transparent"},
{"offset":0.86,"color":"#000"},{"offset":0.867,"color":"#000"},{"offset":0.867,"color":"transparent"},{"offset":0.88,"color":"transparent"},
{"offset":0.88,"color":"#000"},{"offset":0.887,"color":"#000"},{"offset":0.887,"color":"transparent"},{"offset":0.9,"color":"transparent"},
{"offset":0.9,"color":"#000"},{"offset":0.907,"color":"#000"},{"offset":0.907,"color":"transparent"},{"offset":0.92,"color":"transparent"},
{"offset":0.92,"color":"#000"},{"offset":0.927,"color":"#000"},{"offset":0.927,"color":"transparent"},{"offset":0.94,"color":"transparent"},
{"offset":0.94,"color":"#000"},{"offset":0.947,"color":"#000"},{"offset":0.947,"color":"transparent"},{"offset":0.96,"color":"transparent"},
{"offset":0.96,"color":"#000"},{"offset":0.967,"color":"#000"},{"offset":0.967,"color":"transparent"},{"offset":0.98,"color":"transparent"},
{"offset":0.98,"color":"#000"},{"offset":0.987,"color":"#000"},{"offset":0.987,"color":"transparent"},{"offset":1,"color":"transparent"}
        ]}},
      "encoding": {
        "x": {"field": "x", "type": "quantitative", "axis": null},
        "y": {"field": "lo", "type": "quantitative", "stack": null, "axis": null},
        "y2": {"field": "hi"}
      }
    },
    {
      "data": {"name": "bands"},
      "transform": [{"filter": "datum.fr == '20'"}],
      "mark": {"type": "area", "interpolate": "monotone", "strokeWidth": 0, "fill": "#000", "fillOpacity": 0.17},
      "encoding": {
        "x": {"field": "x", "type": "quantitative", "axis": null},
        "y": {"field": "lo", "type": "quantitative", "stack": null, "axis": null},
        "y2": {"field": "hi"}
      }
    },
    {
      "data": {"name": "lines"},
      "mark": {"type": "line", "interpolate": "monotone", "color": "#000", "strokeWidth": 1.8},
      "encoding": {
        "x": {"field": "x", "type": "quantitative",
              "axis": {"orient": "top", "values": [18, 19, 20, 21, 22, 23, 24, 25], "tickSize": -8, "labels": false, "title": null}},
        "y": {"field": "y", "type": "quantitative",
              "axis": {"orient": "right", "values": [5, 10, 15, 20], "tickSize": -10, "labels": false, "title": null}},
        "detail": {"field": "k"}
      }
    },
    {
      "data": {"name": "dots"},
      "mark": {"type": "line", "interpolate": "monotone", "color": "#000", "strokeWidth": 2.2, "strokeDash": [1.5, 2.5], "strokeCap": "round"},
      "encoding": {
        "x": {"field": "x", "type": "quantitative", "axis": null},
        "y": {"field": "y", "type": "quantitative", "axis": null},
        "detail": {"field": "k"}
      }
    },
    {
      "data": {"name": "arrows"},
      "mark": {"type": "rule", "color": "#000", "strokeWidth": 1.6},
      "encoding": {
        "x": {"field": "x", "type": "quantitative", "axis": null},
        "y": {"field": "y", "type": "quantitative", "axis": null},
        "x2": {"field": "x2"},
        "y2": {"field": "y2"}
      }
    },
    {
      "data": {"name": "arrows"},
      "transform": [{"filter": "datum.id == 'a80'"}],
      "mark": {"type": "point", "shape": "triangle-right", "filled": true, "color": "#000", "size": 40, "opacity": 1, "angle": 0},
      "encoding": {"x": {"field": "x2", "type": "quantitative", "axis": null}, "y": {"field": "y2", "type": "quantitative", "axis": null}}
    },
    {
      "data": {"name": "arrows"},
      "transform": [{"filter": "datum.id == 'a0'"}],
      "mark": {"type": "point", "shape": "triangle-right", "filled": true, "color": "#000", "size": 40, "opacity": 1, "angle": 10},
      "encoding": {"x": {"field": "x2", "type": "quantitative", "axis": null}, "y": {"field": "y2", "type": "quantitative", "axis": null}}
    },
    {
      "data": {"name": "arrows"},
      "transform": [{"filter": "datum.id == 'a20'"}],
      "mark": {"type": "point", "shape": "triangle-right", "filled": true, "color": "#000", "size": 40, "opacity": 1, "angle": 151},
      "encoding": {"x": {"field": "x2", "type": "quantitative", "axis": null}, "y": {"field": "y2", "type": "quantitative", "axis": null}}
    },
    {
      "data": {"name": "arrows"},
      "transform": [{"filter": "datum.id == 'a40'"}],
      "mark": {"type": "point", "shape": "triangle-right", "filled": true, "color": "#000", "size": 40, "opacity": 1, "angle": 160},
      "encoding": {"x": {"field": "x2", "type": "quantitative", "axis": null}, "y": {"field": "y2", "type": "quantitative", "axis": null}}
    },
    {
      "data": {"name": "arrows"},
      "transform": [{"filter": "datum.id == 'a60'"}],
      "mark": {"type": "point", "shape": "triangle-right", "filled": true, "color": "#000", "size": 40, "opacity": 1, "angle": 283},
      "encoding": {"x": {"field": "x2", "type": "quantitative", "axis": null}, "y": {"field": "y2", "type": "quantitative", "axis": null}}
    },
    {
      "data": {"name": "notes"},
      "transform": [{"filter": "datum.g == 'a'"}],
      "mark": {"type": "text", "align": "left", "baseline": "middle", "font": "Liberation Sans", "fontWeight": "bold", "fontSize": 16, "color": "#000"},
      "encoding": {"x": {"field": "x", "type": "quantitative", "axis": null}, "y": {"field": "y", "type": "quantitative", "axis": null}, "text": {"field": "t"}}
    },
    {
      "data": {"name": "notes"},
      "transform": [{"filter": "datum.g == 'b'"}],
      "mark": {"type": "text", "align": "left", "baseline": "middle", "font": "Liberation Sans", "fontWeight": "bold", "fontSize": 15, "color": "#000"},
      "encoding": {"x": {"field": "x", "type": "quantitative", "axis": null}, "y": {"field": "y", "type": "quantitative", "axis": null}, "text": {"field": "t"}}
    },
    {
      "data": {"name": "notes"},
      "transform": [{"filter": "datum.g == 'c'"}],
      "mark": {"type": "text", "align": "left", "baseline": "middle", "font": "Liberation Sans", "fontWeight": "bold", "fontSize": 19, "color": "#000"},
      "encoding": {"x": {"field": "x", "type": "quantitative", "axis": null}, "y": {"field": "y", "type": "quantitative", "axis": null}, "text": {"field": "t"}}
    },
    {
      "data": {"name": "fr"},
      "mark": {"type": "point", "opacity": 0, "color": "#000", "strokeWidth": 1.5},
      "encoding": {
        "shape": {"field": "fr", "type": "nominal",
          "scale": {"domain": ["80", "60", "40", "20", "0"],
                    "range": [
                      "M8,-1.1H15.2V1.1H8Z M8.8,-1.1V1.1 M9.6,-1.1V1.1 M10.4,-1.1V1.1 M11.2,-1.1V1.1 M12,-1.1V1.1 M12.8,-1.1V1.1 M13.6,-1.1V1.1 M14.4,-1.1V1.1",
                      "M8,-1.1H15.2V1.1H8Z M8,1.1L8.8,-1.1 M8.8,1.1L9.6,-1.1 M9.6,1.1L10.4,-1.1 M10.4,1.1L11.2,-1.1 M11.2,1.1L12,-1.1 M12,1.1L12.8,-1.1 M12.8,1.1L13.6,-1.1 M13.6,1.1L14.4,-1.1 M14.4,1.1L15.2,-1.1",
                      "M8,-1.1H15.2V1.1H8Z M8,-0.37H15.2 M8,0.37H15.2",
                      "M8,-1.1H15.2V1.1H8Z M8.5,-0.4H9.1 M9.4,0.4H10 M10.2,-0.4H10.8 M11.1,0.4H11.7 M11.9,-0.4H12.5 M12.8,0.4H13.4 M13.6,-0.4H14.2 M14.4,0.4H14.9",
                      "M8,-1.1H15.2V1.1H8Z"
                    ]},
          "legend": {"orient": "none", "legendX": 323, "legendY": 229,
                     "title": "F. R.", "titleFont": "Liberation Sans", "titleFontSize": 17,
                     "titleFontWeight": "bold", "titleColor": "#000", "titlePadding": 3,
                     "labelFont": "Liberation Sans", "labelFontSize": 18, "labelFontWeight": "bold",
                     "labelColor": "#000", "labelAlign": "right", "labelOffset": 15,
                     "symbolSize": 100, "rowPadding": 4,
                     "symbolStrokeColor": "#000", "symbolStrokeWidth": 1.5, "symbolFillColor": "#fff", "symbolOpacity": 1,
                     "encode": {"symbols": {"update": {"fill": {"value": "#fff"}, "stroke": {"value": "#000"}, "strokeWidth": {"value": 1.5}, "opacity": {"value": 1}}}}}}
      }
    }
  ],
  "resolve": {"axis": {"x": "independent", "y": "independent"}}
}
